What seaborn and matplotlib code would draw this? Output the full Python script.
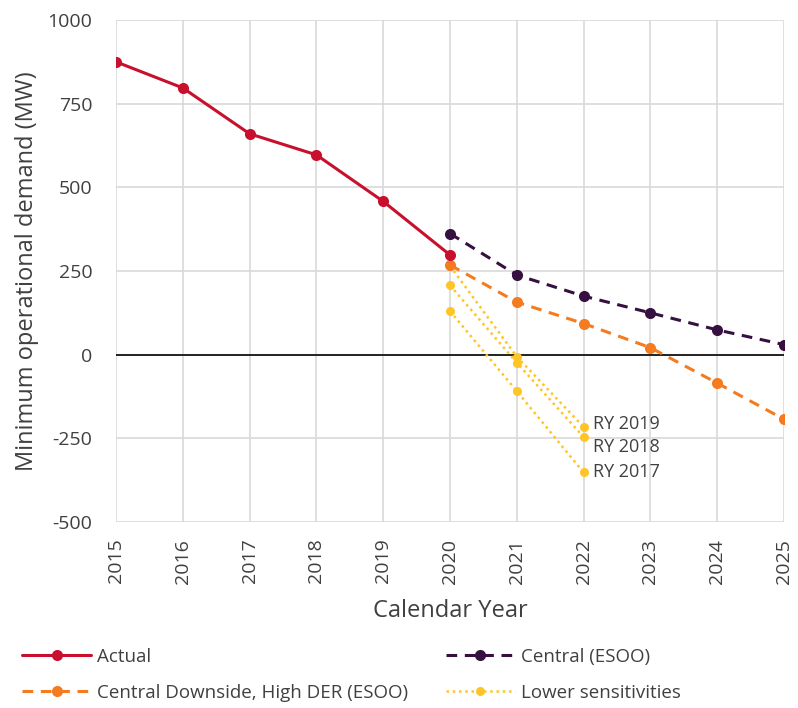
import matplotlib
matplotlib.use("Agg")
import matplotlib.pyplot as plt
import seaborn as sns

years_actual = [2015, 2016, 2017, 2018, 2019, 2020]
actual = [875, 797, 660, 597, 458, 298]

years_proj = [2020, 2021, 2022, 2023, 2024, 2025]
central = [362, 238, 175, 125, 74, 30]
downside = [268, 157, 93, 21, -85, -193]

years_sens = [2020, 2021, 2022]
ry2019 = [265, -6, -216]
ry2018 = [207, -24, -246]
ry2017 = [130, -109, -352]
sens_labels = ["RY 2019", "RY 2018", "RY 2017"]

xticks = list(range(2015, 2026))
yticks = [-500, -250, 0, 250, 500, 750, 1000]

sns.set_theme(style="whitegrid")
plt.rcParams['font.family'] = ['Open Sans', 'DejaVu Sans']
plt.rcParams['axes.unicode_minus'] = False
text_c = "#404040"

fig = plt.figure(figsize=(7.98, 7.08), dpi=100)
ax = fig.add_axes([116/798, 1-522/708, (784-116)/798, (522-20)/708])

c_act = "#C8102E"
c_cen = "#361040"
c_down = "#F47B20"
c_sens = "#FFC425"

sns.lineplot(x=years_actual, y=actual, ax=ax, color=c_act, lw=2.2, marker="o",
             markersize=8, markeredgewidth=0, label="Actual", zorder=5)
sns.lineplot(x=years_proj, y=central, ax=ax, color=c_cen, lw=2.2, marker="o",
             markersize=8, markeredgewidth=0, linestyle=(0, (3.5, 2.5)),
             label="Central (ESOO)", zorder=4)
sns.lineplot(x=years_proj, y=downside, ax=ax, color=c_down, lw=2.2, marker="o",
             markersize=8, markeredgewidth=0, linestyle=(0, (3.5, 2.5)),
             label="Central Downside, High DER (ESOO)", zorder=4)
label_offsets = [2, -7, 0]
for i, (vals, lab) in enumerate(zip([ry2019, ry2018, ry2017], sens_labels)):
    sns.lineplot(x=years_sens, y=vals, ax=ax, color=c_sens, lw=1.8, marker="o",
                 markersize=6.5, markeredgewidth=0, linestyle=(0, (1, 1.5)),
                 label="Lower sensitivities" if i == 0 else None, zorder=3)
    ax.annotate(lab, (years_sens[-1], vals[-1]), xytext=(7, label_offsets[i]),
                textcoords="offset points", va="center", ha="left",
                fontsize=13, color=text_c)

ax.axhline(0, color="#222222", lw=1.4, zorder=2)

ax.set_xlim(2015, 2025)
ax.set_ylim(-500, 1000)
ax.set_xticks(xticks)
ax.set_xticklabels([str(x) for x in xticks], rotation=90)
ax.set_yticks(yticks)
ax.tick_params(axis="both", labelsize=14, colors=text_c, length=0)
ax.tick_params(axis="y", pad=17)
ax.tick_params(axis="x", pad=12)
ax.grid(True, color="#d9d9d9", lw=1.2)
for s in ax.spines.values():
    s.set_visible(False)
ax.set_xlabel("Calendar Year", fontsize=17, color=text_c, labelpad=11)
ax.set_ylabel("Minimum operational demand (MW)", fontsize=17, color=text_c, labelpad=6)

handles, labels = ax.get_legend_handles_labels()
order = [0, 2, 1, 3]
ax.legend([handles[k] for k in order], [labels[k] for k in order],
          loc="upper left", bbox_to_anchor=((22-116)/668, -0.251),
          ncol=2, frameon=False, fontsize=13.5, labelcolor=text_c,
          borderpad=0, borderaxespad=0,
          handlelength=3.7, columnspacing=2.0, handletextpad=0.3, labelspacing=0.96)

fig.savefig("out.png", dpi=100)
